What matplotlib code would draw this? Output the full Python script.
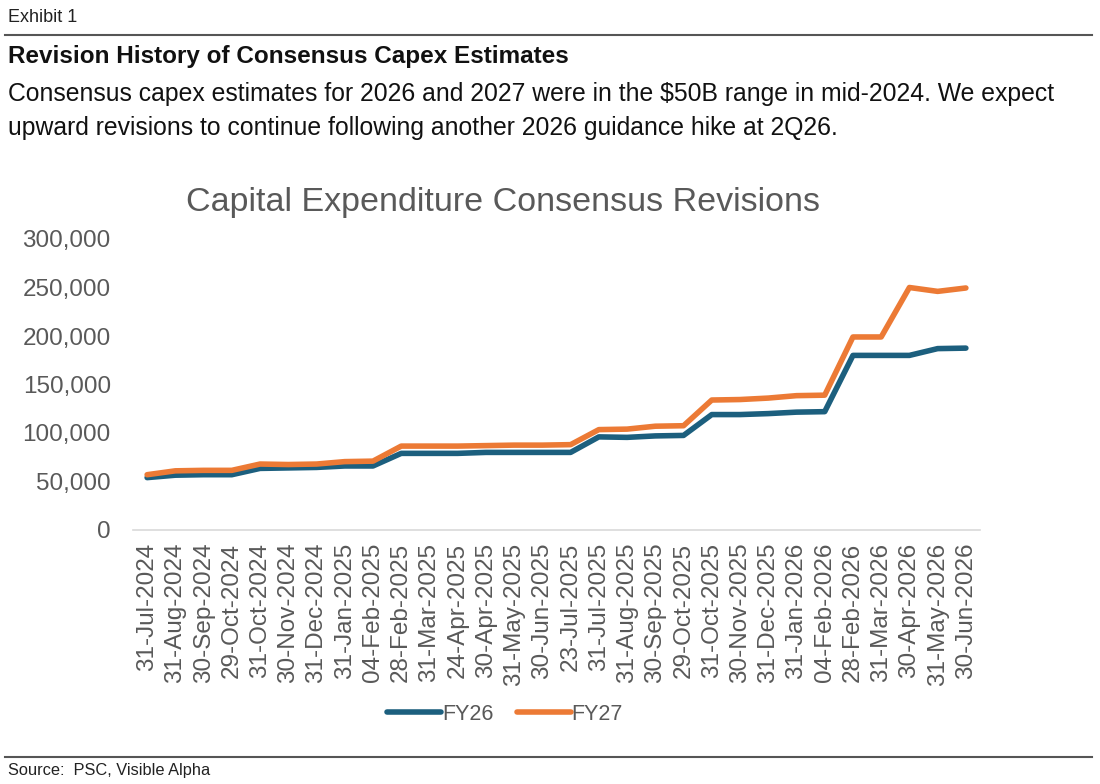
import matplotlib
matplotlib.use("Agg")
import matplotlib.pyplot as plt
from matplotlib.ticker import FuncFormatter
from matplotlib.lines import Line2D

plt.rcParams['font.family'] = ['Liberation Sans', 'DejaVu Sans']

dates = ["31-Jul-2024", "31-Aug-2024", "30-Sep-2024", "29-Oct-2024", "31-Oct-2024",
         "30-Nov-2024", "31-Dec-2024", "31-Jan-2025", "04-Feb-2025", "28-Feb-2025",
         "31-Mar-2025", "24-Apr-2025", "30-Apr-2025", "31-May-2025", "30-Jun-2025",
         "23-Jul-2025", "31-Jul-2025", "31-Aug-2025", "30-Sep-2025", "29-Oct-2025",
         "31-Oct-2025", "30-Nov-2025", "31-Dec-2025", "31-Jan-2026", "04-Feb-2026",
         "28-Feb-2026", "31-Mar-2026", "30-Apr-2026", "31-May-2026", "30-Jun-2026"]

fy26 = [54000, 56500, 57000, 57000, 63500, 64000, 64500, 66000, 66000, 79000,
        79000, 79000, 80000, 80000, 80000, 80000, 96000, 95500, 97000, 97500,
        119000, 119000, 120000, 121500, 122000, 180000, 180000, 180000, 187000, 187500]

fy27 = [57000, 61000, 61500, 61500, 68000, 67500, 68000, 70500, 71000, 86500,
        86500, 86500, 87000, 87500, 87500, 88000, 103500, 104000, 107000, 107500,
        134000, 134500, 136000, 138500, 139000, 199000, 199000, 250000, 246000, 249500]

yticks = [0, 50000, 100000, 150000, 200000, 250000, 300000]

series_names = ["FY26", "FY27"]
colors = ["#1c5f7e", "#ec7a35"]

W, H = 1100, 784
fig = plt.figure(figsize=(W / 100, H / 100), dpi=100)

def fx(px):
    return px / W

def fy(py):
    return 1 - py / H

grey = "#595959"

# Header
fig.text(fx(8), fy(18), "Exhibit 1", fontsize=13, color="#222222", va="center", ha="left")
fig.add_artist(Line2D([fx(5), fx(1092)], [fy(35), fy(35)], color="#555555", lw=1.5))
fig.text(fx(8), fy(57), "Revision History of Consensus Capex Estimates", fontsize=17.5,
         fontweight="bold", color="#111111", va="center", ha="left")
fig.text(fx(8), fy(94), "Consensus capex estimates for 2026 and 2027 were in the $50B range in mid-2024. We expect",
         fontsize=17.8, color="#111111", va="center", ha="left")
fig.text(fx(8), fy(128), "upward revisions to continue following another 2026 guidance hike at 2Q26.",
         fontsize=17.8, color="#111111", va="center", ha="left")

# Chart title
fig.text(fx(503), fy(203), "Capital Expenditure Consensus Revisions", fontsize=24.5,
         color=grey, va="center", ha="center")

ax = fig.add_axes([fx(133), fy(530), fx(980) - fx(133), fy(239) - fy(530)])
x = list(range(len(dates)))
ax.plot(x, fy26, color=colors[0], lw=4, solid_capstyle="round", label=series_names[0], zorder=3)
ax.plot(x, fy27, color=colors[1], lw=4, solid_capstyle="round", label=series_names[1], zorder=4)

ax.set_xlim(-0.5, len(dates) - 0.5)
ax.set_ylim(0, 300000)
ax.set_yticks(yticks)
ax.yaxis.set_major_formatter(FuncFormatter(lambda v, p: f"{int(v):,}"))
ax.set_xticks(x)
ax.set_xticklabels(dates, rotation=90, fontsize=17.5, color=grey)
ax.tick_params(axis="y", labelsize=17.5, colors=grey, length=0, pad=16)
ax.tick_params(axis="x", length=0, pad=9)
for s in ["top", "right", "left"]:
    ax.spines[s].set_visible(False)
ax.spines["bottom"].set_color("#d9d9d9")
ax.spines["bottom"].set_linewidth(1.2)

leg = fig.legend(handles=ax.get_lines(), labels=series_names, loc="center",
                 bbox_to_anchor=(fx(505), fy(714)), ncol=2, frameon=False,
                 fontsize=15.5, handlelength=2.5, handletextpad=0.05, columnspacing=1.1)
for t in leg.get_texts():
    t.set_color(grey)

# Footer
fig.add_artist(Line2D([fx(5), fx(1092)], [fy(757), fy(757)], color="#555555", lw=1.5))
fig.text(fx(8), fy(770), "Source:  PSC, Visible Alpha", fontsize=11.8, color="#222222",
         va="center", ha="left")

fig.savefig("out.png", dpi=100)
